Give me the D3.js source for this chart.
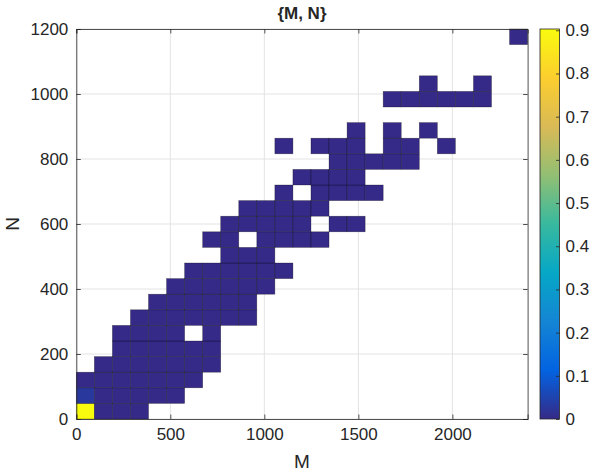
<!DOCTYPE html>
<html><head><meta charset="utf-8">
<script src="https://cdn.jsdelivr.net/npm/d3@7"></script>
<style>
body{margin:0;background:#fff}
text{font-family:"Liberation Sans",Arial,Helvetica,sans-serif;fill:#262626}
</style>
</head><body>
<svg id="c" width="590" height="471"></svg>
<script>
// ---- data ----
const mBinWidth = 96;   // M bin width
const nBinWidth = 48;   // N bin width
const mDomain = [0, 2400];
const nDomain = [0, 1200];
const mTicks = [0, 500, 1000, 1500, 2000];
const nTicks = [0, 200, 400, 600, 800, 1000, 1200];
const cTicks = [0, 0.1, 0.2, 0.3, 0.4, 0.5, 0.6, 0.7, 0.8, 0.9];
const cMax = 0.903;
// occupied M-bin indices for each N-bin row (row 0 = N 0..48)
const rowBins = [
  [0,1,2,3],
  [0,1,2,3,4,5],
  [0,1,2,3,4,5,6],
  [1,2,3,4,5,6,7],
  [2,3,4,5,6,7],
  [2,3,4,5,7],
  [3,4,5,6,7,8,9],
  [4,5,6,7,8,9],
  [5,6,7,8,9,10],
  [6,7,8,9,10,11],
  [8,9,10],
  [7,8,10,11,12,13],
  [8,9,10,11,12,14,15],
  [9,10,11,12,13],
  [11,13,14,15,16],
  [12,13,14,15],
  [14,15,16,17,18],
  [11,13,14,15,17,18,20],
  [15,17,19],
  [],
  [17,18,19,20,21,22],
  [19,22],
  [],
  [],
  [24]
];
const baseProb = 0.0005;
const highCells = [ {col:0, row:0, p:0.902}, {col:0, row:1, p:0.028} ];
// parula colormap stops
const parula = ["#352a87","#0363e1","#1485d4","#06a7c6","#38b99e","#92bf73","#d9ba56","#fcce2e","#f9fb0e"];

// ---- build cells ----
const cells = [];
rowBins.forEach((cols, r) => cols.forEach(c => {
  const h = highCells.find(d => d.col === c && d.row === r);
  cells.push({m0: c*mBinWidth, n0: r*nBinWidth, p: h ? h.p : baseProb});
}));

const svg = d3.select("#c");
const L = 76.3, R = 527.6, T = 29, B = 419;
const x = d3.scaleLinear(mDomain, [L, R]);
const y = d3.scaleLinear(nDomain, [B, T]);
const cscale = d3.scaleLinear(parula.map((d,i)=> i/(parula.length-1)*cMax), parula).clamp(true);
const axisCol = "#262626";

// grid
const g = svg.append("g");
g.selectAll("line.gx").data(mTicks).join("line")
  .attr("x1", d=>x(d)).attr("x2", d=>x(d)).attr("y1", T).attr("y2", B)
  .attr("stroke", "#e3e3e3").attr("stroke-width", 1);
g.selectAll("line.gy").data(nTicks).join("line")
  .attr("y1", d=>y(d)).attr("y2", d=>y(d)).attr("x1", L).attr("x2", R)
  .attr("stroke", "#e3e3e3").attr("stroke-width", 1);

// cells
svg.append("g").selectAll("rect").data(cells).join("rect")
  .attr("x", d=>x(d.m0)).attr("y", d=>y(d.n0+nBinWidth))
  .attr("width", d=>x(d.m0+mBinWidth)-x(d.m0))
  .attr("height", d=>y(d.n0)-y(d.n0+nBinWidth))
  .attr("fill", d=>cscale(d.p))
  .attr("stroke", "rgba(0,0,0,0.45)").attr("stroke-width", 0.6);

// axes
const fs = 17;
const xa = svg.append("g").attr("transform", `translate(0,${B})`)
  .call(d3.axisBottom(x).tickValues(mTicks).tickSize(-4.5).tickPadding(9).tickFormat(d3.format("d")));
const xt = svg.append("g").attr("transform", `translate(0,${T})`)
  .call(d3.axisTop(x).tickValues(mTicks).tickSize(-4.5).tickFormat(""));
const ya = svg.append("g").attr("transform", `translate(${L},0)`)
  .call(d3.axisLeft(y).tickValues(nTicks).tickSize(-4.5).tickPadding(8).tickFormat(d3.format("d")));
const yr = svg.append("g").attr("transform", `translate(${R},0)`)
  .call(d3.axisRight(y).tickValues(nTicks).tickSize(-4.5).tickFormat(""));
[xa, xt, ya, yr].forEach(a => {
  a.selectAll("path").attr("stroke", axisCol).attr("stroke-width", 0.8);
  a.selectAll("line").attr("stroke", axisCol).attr("stroke-width", 0.8);
  a.selectAll("text").attr("font-size", fs).attr("fill", axisCol)
    .style("font-family", '"Liberation Sans",Arial,sans-serif');
});
ya.selectAll("text").attr("dy", "0.35em");

// labels
svg.append("text").attr("x", (L+R)/2).attr("y", 468).attr("text-anchor", "middle")
  .attr("font-size", 19).text("M");
svg.append("text").attr("transform", `translate(19,${(T+B)/2}) rotate(-90)`)
  .attr("text-anchor", "middle").attr("font-size", 19).text("N");
svg.append("text").attr("x", (L+R)/2).attr("y", 19).attr("text-anchor", "middle")
  .attr("font-size", 17).attr("font-weight", "bold").attr("fill", "#000").text("{M, N}");

// colorbar
const cbL = 540, cbR = 559.5;
const cy = d3.scaleLinear([0, cMax], [B, T]);
const defs = svg.append("defs");
const lg = defs.append("linearGradient").attr("id", "cbg")
  .attr("x1", 0).attr("y1", 1).attr("x2", 0).attr("y2", 0);
lg.selectAll("stop").data(parula).join("stop")
  .attr("offset", (d,i)=> i/(parula.length-1)).attr("stop-color", d=>d);
svg.append("rect").attr("x", cbL).attr("y", T).attr("width", cbR-cbL).attr("height", B-T)
  .attr("fill", "url(#cbg)").attr("stroke", axisCol).attr("stroke-width", 0.8);
const ca = svg.append("g").attr("transform", `translate(${cbR},0)`)
  .call(d3.axisRight(cy).tickValues(cTicks).tickSize(-3.5).tickPadding(6)
    .tickFormat(d => d === 0 ? "0" : d3.format(".1f")(d)));
ca.select("path").remove();
ca.selectAll("line").attr("stroke", axisCol).attr("stroke-width", 0.8);
ca.selectAll("text").attr("font-size", fs).attr("fill", axisCol)
  .style("font-family", '"Liberation Sans",Arial,sans-serif');
</script>
</body></html>
